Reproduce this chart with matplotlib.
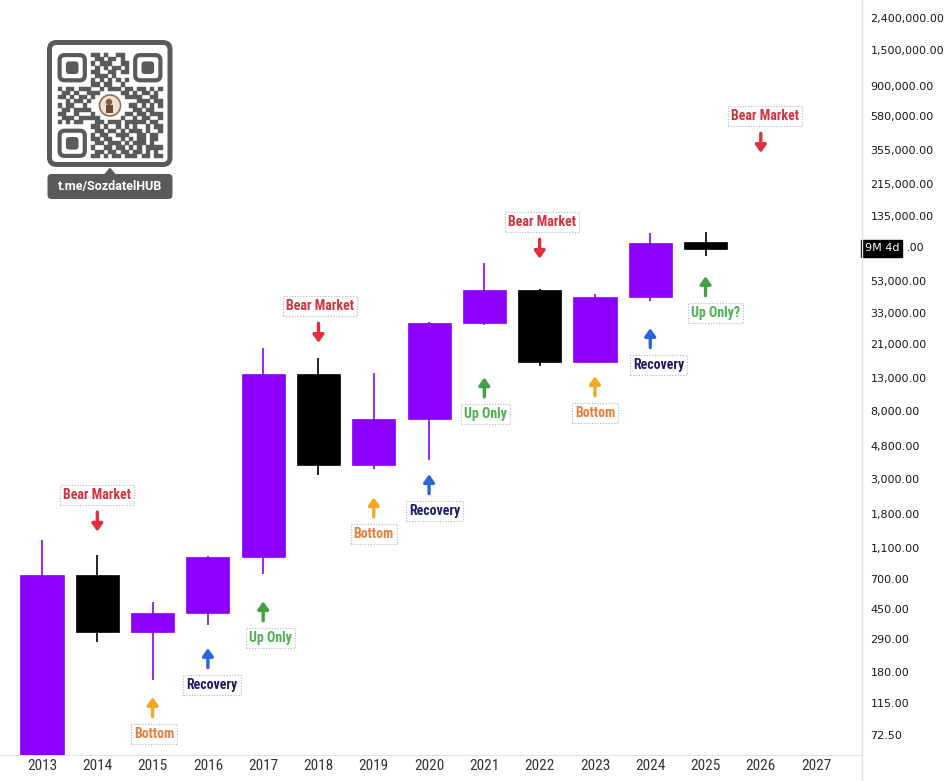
import matplotlib
matplotlib.use("Agg")
import matplotlib.pyplot as plt
import matplotlib.transforms as mtransforms
from matplotlib.patches import FancyBboxPatch, Rectangle, Polygon, Circle
from matplotlib.ticker import FixedLocator, FuncFormatter, NullLocator

# yearly candles (log price axis)
years = [2013, 2014, 2015, 2016, 2017, 2018, 2019, 2020, 2021, 2022, 2023, 2024, 2025]
opens = [13.5, 739, 323, 426, 960, 13680, 3650, 7110, 28700, 46000, 16300, 41850, 93000]
highs = [1229, 988, 500, 975, 19950, 17250, 13900, 29000, 68500, 47000, 44000, 106000, 107500]
lows = [13.0, 279, 161, 358, 750, 3155, 3440, 3930, 27900, 15400, 16300, 39500, 75900]
closes = [739, 323, 426, 960, 13680, 3650, 7110, 28700, 46000, 16300, 41850, 91600, 84000]

year_ticks = list(range(2013, 2028))
price_ticks = [72.5, 115, 180, 290, 450, 700, 1100, 1800, 3000, 4800, 8000, 13000,
               21000, 33000, 53000, 85000, 135000, 215000, 355000, 580000, 900000,
               1500000, 2400000]
badge_price = 85000
badge_text = "9M 4d"

# cycle annotations: year, price at arrow centre, label
notes = [
    (2014, 1600, "Bear Market"),
    (2015, 109, "Bottom"),
    (2016, 222, "Recovery"),
    (2017, 438, "Up Only"),
    (2018, 24800, "Bear Market"),
    (2019, 1980, "Bottom"),
    (2020, 2770, "Recovery"),
    (2021, 11300, "Up Only"),
    (2022, 84000, "Bear Market"),
    (2023, 11500, "Bottom"),
    (2024, 23100, "Recovery"),
    (2025, 49100, "Up Only?"),
    (2026, 391000, "Bear Market"),
]
label_shift = [0, 1, 3, 5, 1, 0, 4, 1, 2, 0, 6, 7, 3]   # points, label vs arrow

styles = {  # text colour, arrow colour, arrow points down?
    "Bear Market": ("#d7303f", "#e0303f", True),
    "Bottom": ("#e5803c", "#f5a623", False),
    "Recovery": ("#1c1c6b", "#2b63d9", False),
    "Up Only": ("#4caf50", "#43a047", False),
    "Up Only?": ("#4caf50", "#43a047", False),
}

NARROW = ["Roboto Condensed", "DejaVu Sans"]
BULL = "#8c00ff"
BEAR = "#000000"

fig = plt.figure(figsize=(9.48, 7.81), dpi=100, facecolor="white")
ax = fig.add_axes([0, 26 / 781, 862 / 948, 755 / 781])
ax.set_yscale("log")
ax.set_xlim(2012.24, 2027.83)
ax.set_ylim(54.2, 3.12e6)

# candles
for yr, o, h, l, c in zip(years, opens, highs, lows, closes):
    col = BULL if c >= o else BEAR
    ax.vlines(yr, l, h, color=col, lw=1.2, zorder=2)
    ax.bar(yr, abs(c - o), bottom=min(o, c), width=0.78, color=col,
           edgecolor=col, lw=0.5, zorder=3)

# arrows + labels
for (yr, p, txt), dx in zip(notes, label_shift):
    tcol, acol, down = styles[txt]
    top = mtransforms.offset_copy(ax.transData, fig, x=0, y=7, units="points")
    bot = mtransforms.offset_copy(ax.transData, fig, x=0, y=-7, units="points")
    tip, tail = (bot, top) if down else (top, bot)
    ax.annotate("", xy=(yr, p), xycoords=tip, xytext=(yr, p), textcoords=tail,
                arrowprops=dict(arrowstyle="-|>,head_width=0.32,head_length=0.45",
                                lw=2.4, color=acol, shrinkA=0, shrinkB=0),
                annotation_clip=False, zorder=4)
    ax.annotate(txt, xy=(yr, p), xytext=(dx, 19.5 if down else -19.5),
                textcoords="offset points", ha="center", va="center",
                fontsize=10, fontweight="bold", color=tcol, family=NARROW,
                bbox=dict(boxstyle="square,pad=0.22", fc="white", ec="#b5b5b5",
                          ls=(0, (1, 1.5)), lw=0.8),
                annotation_clip=False, zorder=5)


def price_label(v, _):
    # the countdown badge hides the integer part of this level
    if abs(v - badge_price) < 1:
        return ""
    return f"{v:,.2f}"


# axes styling
for s in ["top", "left"]:
    ax.spines[s].set_visible(False)
ax.spines["bottom"].set_color("#e0e3eb")
ax.spines["right"].set_color("#e0e3eb")
ax.yaxis.tick_right()
ax.yaxis.set_major_locator(FixedLocator(price_ticks))
ax.yaxis.set_minor_locator(NullLocator())
ax.yaxis.set_major_formatter(FuncFormatter(price_label))
ax.tick_params(axis="y", length=0, pad=6, labelsize=8, labelcolor="#131722")
ax.set_xticks(year_ticks)
ax.set_xticklabels([str(y) for y in year_ticks])
ax.tick_params(axis="x", length=0, pad=3, labelsize=11, labelcolor="#333333")
for lab in ax.get_xticklabels():
    lab.set_family(NARROW)

# remaining-time badge on the price axis
blend = mtransforms.blended_transform_factory(ax.transAxes, ax.transData)
ax.text(1.003, badge_price, badge_text, transform=blend, ha="left", va="center",
        fontsize=8, color="white", clip_on=False, zorder=6,
        bbox=dict(boxstyle="square,pad=0.3", fc="black", ec="black"))
fblend = mtransforms.blended_transform_factory(fig.transFigure, ax.transData)
fig.text(907 / 948, badge_price, f"{badge_price:,.2f}"[-3:], transform=fblend,
         ha="left", va="center", fontsize=8, color="#131722")

# separator running down into the date area
fig.add_artist(plt.Line2D([862 / 948, 862 / 948], [0, 1], color="#e0e3eb", lw=1,
                          transform=fig.transFigure))

# QR badge
qa = fig.add_axes([47 / 948, 1 - 200 / 781, 126 / 948, 160 / 781])
qa.set_xlim(0, 126)
qa.set_ylim(160, 0)
qa.axis("off")
QR_GRAY = "#5a5a5a"
qa.add_patch(FancyBboxPatch((2.5, 2.5), 120.5, 122, boxstyle="round,pad=0,rounding_size=7",
                            fc="white", ec=QR_GRAY, lw=3.6))
qr = [
    "1111111011010011001111111",
    "1000001001101101001000001",
    "1011101010111001101011101",
    "1011101001010110101011101",
    "1011101011001101101011101",
    "1000001001110100001000001",
    "1111111010101010101111111",
    "0000000011011001000000000",
    "1011011100101110110110101",
    "0110100111000001101011010",
    "1101011010000000111100110",
    "0010110100000000000111011",
    "1011001000000000011010101",
    "0110111100000000001101100",
    "1100100010000000110110111",
    "0111011111000001001011001",
    "1010110001101110111110110",
    "0000000011010010101001011",
    "1111111001101101011101001",
    "1000001010110011100110110",
    "1011101011011001010110110",
    "1011101001101110101110100",
    "1011101010011011010101111",
    "1000001001101101101101010",
    "1111111011010110111011011",
]
s, x0, y0 = 4.2, 10.5, 13.0
finders = [(0, 0), (0, 18), (18, 0)]


def in_finder(r, c):
    return any(fr <= r < fr + 7 and fc <= c < fc + 7 for fr, fc in finders)


for r, row in enumerate(qr):
    for c, ch in enumerate(row):
        if ch == "1" and not in_finder(r, c):
            qa.add_patch(Rectangle((x0 + c * s, y0 + r * s), s, s, fc=QR_GRAY, ec=QR_GRAY, lw=0.3))
for fr, fc in finders:
    qa.add_patch(FancyBboxPatch((x0 + fc * s + s / 2, y0 + fr * s + s / 2), 6 * s, 6 * s,
                                boxstyle="round,pad=0,rounding_size=5", fc="none",
                                ec=QR_GRAY, lw=3.0))
    qa.add_patch(FancyBboxPatch((x0 + (fc + 2) * s, y0 + (fr + 2) * s), 3 * s, 3 * s,
                                boxstyle="round,pad=0,rounding_size=3", fc=QR_GRAY, ec="none"))
qa.add_patch(Circle((63, 65.5), 10.5, fc="#efe3d3", ec="#9a6b4a", lw=1.2))
qa.add_patch(Circle((62, 62), 3.2, fc="#8a5a3c", ec="none"))
qa.add_patch(Rectangle((58.5, 65), 7, 8, fc="#6b4a36", ec="none"))
qa.add_patch(Polygon([(57, 134.5), (69, 134.5), (63, 127.5)], closed=True, fc=QR_GRAY, ec="none"))
qa.add_patch(FancyBboxPatch((0.5, 134), 125, 25, boxstyle="round,pad=0,rounding_size=4",
                            fc=QR_GRAY, ec="none"))
qa.text(63, 146.5, "t.me/SozdatelHUB", ha="center", va="center", color="white",
        fontsize=9, fontweight="bold", family=["Roboto", "DejaVu Sans"])

fig.savefig("out.png", dpi=100, facecolor="white")
